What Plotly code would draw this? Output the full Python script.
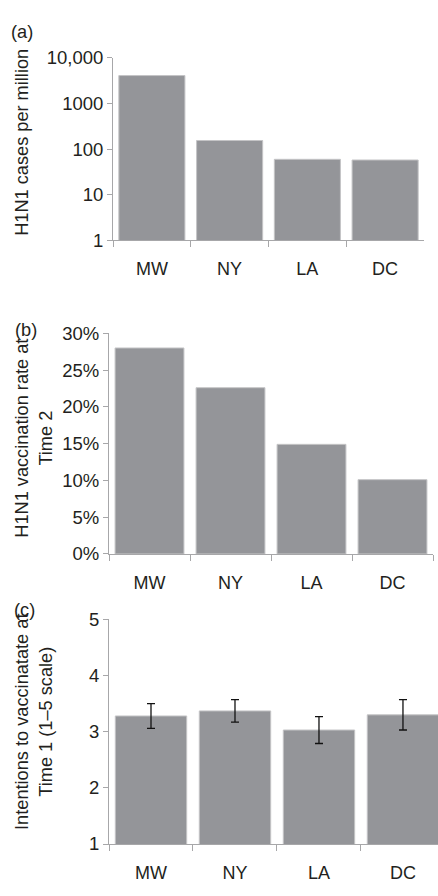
import plotly.graph_objects as go

# Regions compared in all three panels
regions = ["MW", "NY", "LA", "DC"]

# (a) H1N1 cases per million (log scale)
cases_per_million = [4100, 155, 60, 58]
case_tick_vals = [1, 10, 100, 1000, 10000]
case_tick_text = ["1", "10", "100", "1000", "10,000"]

# (b) H1N1 vaccination rate at Time 2 (percent)
vaccination_rate = [28.0, 22.6, 14.9, 10.1]
rate_tick_vals = [0, 5, 10, 15, 20, 25, 30]
rate_tick_text = ["0%", "5%", "10%", "15%", "20%", "25%", "30%"]

# (c) Intentions to vaccinate at Time 1 (1-5 scale) with error bars
intentions = [3.28, 3.37, 3.03, 3.30]
intentions_err = [0.22, 0.20, 0.24, 0.27]

BAR = "#949599"
EDGE = "#c4c4c6"
AXIS = "#a7a7a9"
TEXT = "#231f20"
FONT = "Liberation Sans, Arial, sans-serif"
W, H = 438, 896

fig = go.Figure()

fig.add_trace(go.Bar(x=regions, y=cases_per_million, xaxis="x", yaxis="y",
                     marker=dict(color=BAR, line=dict(color=EDGE, width=1))))
fig.add_trace(go.Bar(x=regions, y=vaccination_rate, xaxis="x2", yaxis="y2",
                     marker=dict(color=BAR, line=dict(color=EDGE, width=1))))
fig.add_trace(go.Bar(x=regions, y=intentions, xaxis="x3", yaxis="y3",
                     marker=dict(color=BAR, line=dict(color=EDGE, width=1)),
                     error_y=dict(type="data", array=intentions_err,
                                  color="#111111", thickness=1.3, width=4)))

def px_dom(a, b, total):
    return [a / total, b / total]

def py_dom(top, bottom):
    return [1 - bottom / H, 1 - top / H]

xcommon = dict(type="category", showline=True, linecolor=AXIS, linewidth=1,
               ticks="outside", ticklen=6, tickcolor=AXIS, tickson="boundaries",
               showgrid=False, zeroline=False, fixedrange=True,
               ticklabelstandoff=12,
               tickfont=dict(family=FONT, size=18, color=TEXT))
ycommon = dict(showline=True, linecolor=AXIS, linewidth=1, ticks="outside",
               ticklen=5, tickcolor=AXIS, showgrid=False, zeroline=False,
               fixedrange=True,
               tickfont=dict(family=FONT, size=18.5, color=TEXT))

fig.update_layout(
    width=W, height=H,
    margin=dict(l=0, r=0, t=0, b=0),
    paper_bgcolor="white", plot_bgcolor="white",
    showlegend=False, bargap=0.15,
    xaxis=dict(xcommon, domain=px_dom(113, 424, W), anchor="y",
               range=[-0.5, 3.5]),
    yaxis=dict(ycommon, domain=py_dom(48, 235), anchor="x", type="log",
               range=[0, 4], tickvals=case_tick_vals, ticktext=case_tick_text),
    xaxis2=dict(xcommon, domain=px_dom(109, 433, W), anchor="y2",
                range=[-0.5, 3.5]),
    yaxis2=dict(ycommon, domain=py_dom(330, 556), anchor="x2",
                range=[0, 30], tickvals=rate_tick_vals, ticktext=rate_tick_text),
    xaxis3=dict(xcommon, domain=px_dom(109, 438, W), anchor="y3",
                range=[-0.5, 3.417]),
    yaxis3=dict(ycommon, domain=py_dom(623, 853), anchor="x3",
                range=[1, 5], tickvals=[1, 2, 3, 4, 5]),
)

def note(text, x, y, rot=0, size=18.2):
    fig.add_annotation(text=text, x=x / W, y=1 - y / H, xref="paper",
                       yref="paper", showarrow=False, textangle=rot,
                       xanchor="center", yanchor="middle",
                       font=dict(family=FONT, size=size, color=TEXT))

# Panel letters
note("(a)", 22, 21)
note("(b)", 26, 327)
note("(c)", 24, 613)

# Y-axis titles
note("H1N1 cases per million", 22, 135, rot=-90)
note("H1N1 vaccination rate at<br>Time 2", 34, 438, rot=-90)
note("Intentions to vaccinatate at<br>Time 1 (1–5 scale)", 34, 728, rot=-90)

fig.write_html("out.html")
